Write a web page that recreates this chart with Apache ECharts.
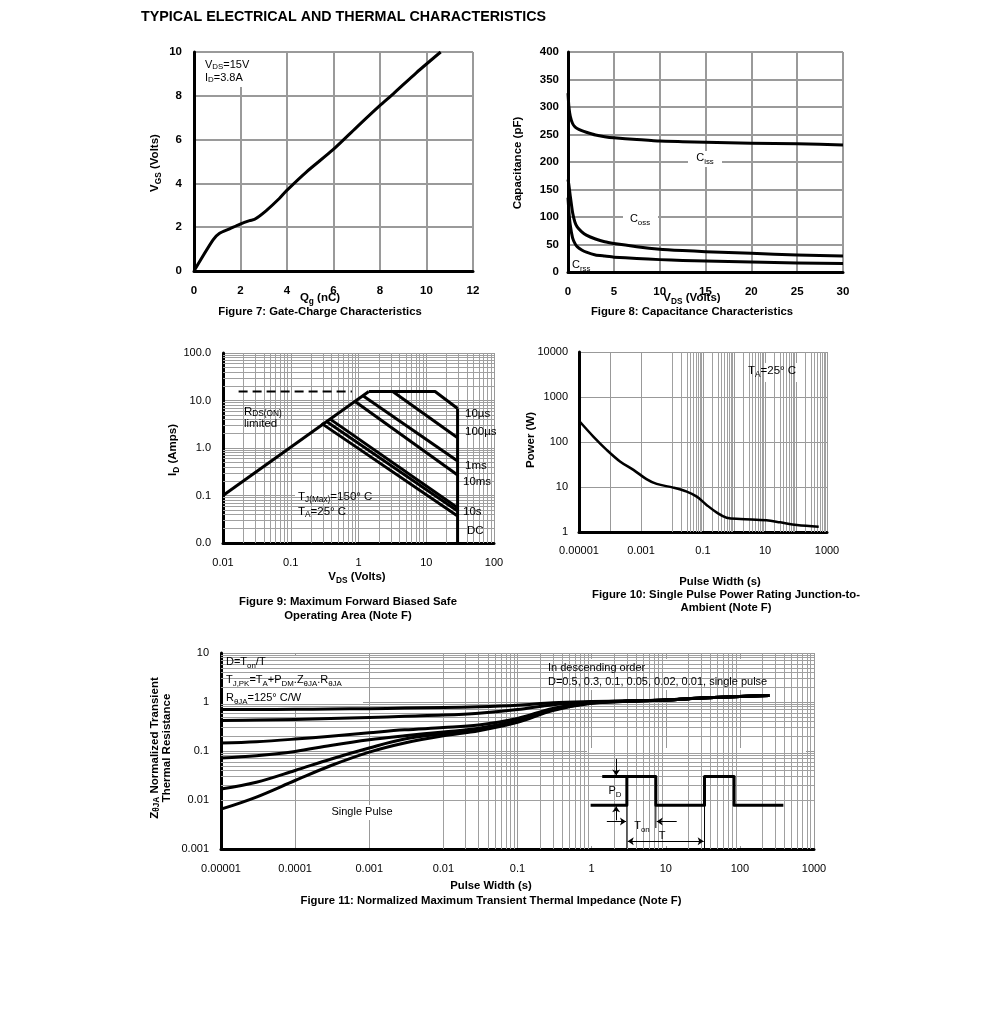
<!DOCTYPE html>
<html><head><meta charset="utf-8">
<script src="https://cdn.jsdelivr.net/npm/echarts@6/dist/echarts.min.js"></script>
<style>html,body{margin:0;padding:0;background:#fff}#c{width:991px;height:1017px}</style>
</head><body><div id="c"></div>
<script>
// ---------------- DATA ----------------
// Figure 7: gate charge
const QG  = [0,0.82,1.10,1.53,1.96,2.39,2.61,3.11,3.68,3.97,4.83,5.98,6.98,7.99,8.56,9.56,10.61];
const VGS = [0,1.42,1.72,1.92,2.13,2.30,2.36,2.76,3.32,3.66,4.52,5.54,6.55,7.55,8.08,9.05,10.0];
// Figure 8: capacitance
const VDS_CAP = [0,0.1,0.25,0.5,0.75,1,1.5,2,3,4,5,7.5,10,12.5,15,20,25,30];
const CISS = [325,300,283,270,264,261,257,254,249,246,244,241,238,237,236,234,233,231];
const COSS = [168,158,138,108,91,82,73,67,60,55,52,46,41.5,39,37,34,31,29];
const CRSS = [135,110,85,62,52,46,40,36,31,29,27,24.5,22.5,21,20,18,16.5,15.5];
// Figure 9: safe operating area, [VDS, ID]
const SOA_RDS   = [[0.01,0.1],[1.42,15.5]];
const SOA_10US  = [[1.42,15.5],[13.5,15.5],[29,6.8]];
const SOA_BOUND = [[29,6.8],[29,0.01]];
const SOA_100US = [[3.2,15.5],[29,1.65]];
const SOA_1MS   = [[1.15,12.8],[29,0.53]];
const SOA_10MS  = [[0.88,9.6],[29,0.27]];
const SOA_100MS = [[0.377,4.1],[29,0.055]];
const SOA_10S   = [[0.329,3.7],[29,0.047]];
const SOA_DC    = [[0.284,3.3],[29,0.037]];
const SOA_DASH  = [[0.017,15.5],[0.8,15.5]];
// Figure 10: single pulse power
const PW_T = [1e-5,2.9e-5,7.8e-5,2.1e-4,5.7e-4,1.5e-3,3.2e-3,0.011,0.03,0.063,0.13,0.28,0.58,1.6,11,31,106,540];
const PW_P = [296,132,67,37,24,15,11.7,9.7,7.9,6.1,4.0,2.7,2.08,1.95,1.82,1.64,1.43,1.31];
// Figure 11: transient thermal impedance
const ZT     = [1e-5,3e-5,1e-4,3e-4,1e-3,3e-3,0.01,0.03,0.1,0.3,1,3,10,30,100,250];
const Z_D05  = [0.70,0.70,0.71,0.72,0.73,0.75,0.77,0.80,0.86,0.96,1.02,1.06,1.10,1.20,1.30,1.35];
const Z_D03  = [0.42,0.43,0.44,0.46,0.48,0.51,0.54,0.59,0.70,0.88,1.00,1.05,1.10,1.20,1.30,1.35];
const Z_D01  = [0.146,0.155,0.175,0.20,0.235,0.27,0.30,0.34,0.46,0.74,0.97,1.04,1.10,1.20,1.30,1.35];
const Z_D005 = [0.072,0.08,0.098,0.13,0.17,0.205,0.245,0.29,0.42,0.71,0.96,1.04,1.10,1.20,1.30,1.35];
const Z_D001 = [0.0168,0.023,0.04,0.068,0.115,0.175,0.225,0.275,0.40,0.69,0.95,1.03,1.10,1.20,1.30,1.35];
const Z_SP   = [0.0065,0.0115,0.025,0.05,0.095,0.146,0.205,0.26,0.385,0.67,0.94,1.03,1.10,1.20,1.30,1.35];
// Figure 11 inset: pulse train (time in units of Ton, power normalised)
const PULSE_T = [-1.25,0,0,1,1,2.68,2.68,3.7,3.7,5.4];
const PULSE_P = [0,0,1,1,0,0,1,1,0,0];
const PD_REF  = [[-0.85,1],[0,1]];
// tick labels for log axes (one per decade)
const F9_X_LABELS  = ['0.01','0.1','1','10','100'];
const F9_Y_LABELS  = ['0.0','0.1','1.0','10.0','100.0'];
const F10_X_LABELS = ['0.00001','','0.001','','0.1','','10','','1000'];
const F10_Y_LABELS = ['1','10','100','1000','10000'];
const F11_X_LABELS = ['0.00001','0.0001','0.001','0.01','0.1','1','10','100','1000'];
const F11_Y_LABELS = ['0.001','0.01','0.1','1','10'];
const MINOR = [2,3,4,5,6,7,8,9];

// ---------------- HELPERS ----------------
const FF = '"Liberation Sans", Arial, Helvetica, sans-serif';
const zip = (a,b) => a.map((v,i)=>[v,b[i]]);
function rt(src, size, weight, lh) {
  lh = lh || size + 4;
  const out = src.split('\n').map(line => {
    let s = '', last = 0, m; const re = /_\{([^}]*)\}/g;
    while ((m = re.exec(line))) {
      if (m.index > last) s += '{n|' + line.slice(last, m.index) + '}';
      s += '{s|' + m[1] + '}';
      last = re.lastIndex;
    }
    if (last < line.length) s += '{n|' + line.slice(last) + '}';
    return s;
  }).join('\n');
  const sub = Math.round(size * 0.72 * 10) / 10;
  return { text: out, rich: {
    n: {fontSize:size, fontWeight:weight, fontFamily:FF, fill:'#000', color:'#000', lineHeight:lh},
    s: {fontSize:sub, fontWeight:weight, fontFamily:FF, fill:'#000', color:'#000', lineHeight:sub, verticalAlign:'bottom'}
  }};
}
function txt(src, x, y, o) {
  o = o || {};
  const r = rt(src, o.size || 11, o.weight || 'normal', o.lh);
  return {type:'text', x, y, rotation: o.rot || 0, z: 10, silent: true,
    style: Object.assign({align: o.align || 'left', verticalAlign: 'middle'}, r)};
}
function box(x, y, w, h) {
  return {type:'rect', z: 3, silent: true, shape:{x, y, width:w, height:h}, style:{fill:'#fff'}};
}
function linAxis(gi, min, max, interval, margin) {
  return {gridIndex:gi, type:'value', min, max, interval,
    axisLine:{show:true, onZero:false, lineStyle:{color:'#000', width:3}},
    axisTick:{show:false},
    axisLabel:{margin, color:'#000', fontSize:11.5, fontWeight:'bold', fontFamily:FF},
    splitLine:{show:true, lineStyle:{color:'#9a9a9a', width:2}}};
}
function logAxis(gi, min, max, labels, margin) {
  const e0 = Math.round(Math.log10(min));
  return {gridIndex:gi, type:'log', logBase:10, min, max, splitNumber:10,
    axisLine:{show:true, onZero:false, lineStyle:{color:'#000', width:3}},
    axisTick:{show:false}, minorTick:{show:false}, minorSplitLine:{show:false},
    axisLabel:{margin, color:'#000', fontSize:11, fontFamily:FF, showMinLabel:true, showMaxLabel:true,
      formatter: v => { const l = labels[Math.round(Math.log10(v)) - e0]; return l === undefined ? '' : l; }},
    splitLine:{show:true, lineStyle:{color:'#999', width:1}}};
}
function hidAxis(gi, min, max) { return {gridIndex:gi, type:'value', min, max, show:false}; }
function minorVals(e0, e1) {
  const out = [];
  for (let e = e0; e < e1; e++) for (const m of MINOR) out.push(m * Math.pow(10, e));
  return out;
}
function gridSeries(gi, xv, yv) {
  return {type:'line', xAxisIndex:gi, yAxisIndex:gi, data:[], silent:true, z:1, animation:false,
    markLine:{silent:true, symbol:['none','none'], animation:false, label:{show:false},
      emphasis:{disabled:true}, lineStyle:{color:'#a0a0a0', width:1, type:'solid'},
      data:[...xv.map(v=>({xAxis:v})), ...yv.map(v=>({yAxis:v}))]}};
}
function curve(gi, data, o) {
  o = o || {};
  return {type:'line', xAxisIndex:gi, yAxisIndex:gi, data, showSymbol:false, symbol:'none',
    smooth: o.smooth || false, silent:true, z:5, animation:false,
    lineStyle:{color:'#000', width: o.w || 3, type: o.type || 'solid', cap:'butt', join:'round'}};
}
function arrow(gi, coords, both) {
  return {type:'lines', coordinateSystem:'cartesian2d', xAxisIndex:gi, yAxisIndex:gi, z:6, silent:true,
    symbol: both ? ['arrow','arrow'] : ['none','arrow'], symbolSize:6, animation:false,
    lineStyle:{color:'#000', width:1, opacity:1, curveness:0}, data:[{coords}]};
}

// ---------------- OPTION ----------------
const G = {containLabel:false, outerBoundsMode:'none'};
const option = {
  backgroundColor:'#fff', animation:false,
  grid:[
    Object.assign({left:194, top:52, width:279, height:219}, G),
    Object.assign({left:568, top:52, width:275, height:220}, G),
    Object.assign({left:223, top:353, width:271, height:190}, G),
    Object.assign({left:579, top:352, width:248, height:180}, G),
    Object.assign({left:221, top:653, width:593, height:196}, G),
    Object.assign({left:587, top:748, width:221, height:100}, G)
  ],
  xAxis:[
    linAxis(0, 0, 12, 2, 14),
    linAxis(1, 0, 30, 5, 14),
    logAxis(2, 0.01, 100, F9_X_LABELS, 14),
    logAxis(3, 1e-5, 1000, F10_X_LABELS, 13),
    logAxis(4, 1e-5, 1000, F11_X_LABELS, 14),
    hidAxis(5, -1.375, 6.25)
  ],
  yAxis:[
    linAxis(0, 0, 10, 2, 12),
    linAxis(1, 0, 400, 50, 9),
    logAxis(2, 0.01, 100, F9_Y_LABELS, 12),
    logAxis(3, 1, 10000, F10_Y_LABELS, 11),
    logAxis(4, 0.001, 10, F11_Y_LABELS, 12),
    hidAxis(5, -1.5, 2.0)
  ],
  series:[
    // minor log gridlines
    gridSeries(2, minorVals(-2, 2), minorVals(-2, 2)),
    gridSeries(3, minorVals(-5, 3), []),
    gridSeries(4, minorVals(-5, 3), minorVals(-3, 1)),
    // fig 7
    curve(0, zip(QG, VGS), {smooth:0.25}),
    // fig 8
    curve(1, zip(VDS_CAP, CISS), {smooth:0.15}),
    curve(1, zip(VDS_CAP, COSS), {smooth:0.15}),
    curve(1, zip(VDS_CAP, CRSS), {smooth:0.15}),
    // fig 9
    curve(2, SOA_RDS), curve(2, SOA_10US), curve(2, SOA_BOUND), curve(2, SOA_100US),
    curve(2, SOA_1MS), curve(2, SOA_10MS), curve(2, SOA_100MS), curve(2, SOA_10S), curve(2, SOA_DC),
    curve(2, SOA_DASH, {w:2, type:[9,5]}),
    // fig 10
    curve(3, zip(PW_T, PW_P), {smooth:0.35, w:2.5}),
    // fig 11
    curve(4, zip(ZT, Z_D05), {smooth:0.35}),
    curve(4, zip(ZT, Z_D03), {smooth:0.35}),
    curve(4, zip(ZT, Z_D01), {smooth:0.35}),
    curve(4, zip(ZT, Z_D005), {smooth:0.35}),
    curve(4, zip(ZT, Z_D001), {smooth:0.35}),
    curve(4, zip(ZT, Z_SP), {smooth:0.35}),
    // inset pulse diagram
    Object.assign(curve(5, zip(PULSE_T, PULSE_P), {w:3}), {z:7}),
    Object.assign(curve(5, PD_REF, {w:3}), {z:7}),
    Object.assign(curve(5, [[0,0],[0,-1.5]], {w:1}), {z:7}),
    Object.assign(curve(5, [[1,0],[1,-0.8]], {w:1}), {z:7}),
    Object.assign(curve(5, [[2.68,0],[2.68,-1.5]], {w:1}), {z:7}),
    arrow(5, [[-0.37,1.62],[-0.37,1.04]]),
    arrow(5, [[-0.37,-0.53],[-0.37,-0.04]]),
    arrow(5, [[-0.69,-0.57],[-0.03,-0.57]]),
    arrow(5, [[1.72,-0.57],[1.03,-0.57]]),
    arrow(5, [[0.03,-1.26],[2.65,-1.26]], true)
  ],
  graphic:{elements:[
    txt('TYPICAL ELECTRICAL AND THERMAL CHARACTERISTICS', 141, 17, {size:14.3, weight:'bold'}),
    // fig 7
    box(197, 53, 61, 34),
    txt('V_{DS}=15V\nI_{D}=3.8A', 205, 71, {size:11, lh:13}),
    txt('Q_{g} (nC)', 320, 298, {size:11.5, weight:'bold', align:'center'}),
    txt('V_{GS} (Volts)', 155, 163, {size:11.5, weight:'bold', align:'center', rot:Math.PI/2}),
    txt('Figure 7: Gate-Charge Characteristics', 320, 312, {size:11.3, weight:'bold', align:'center'}),
    // fig 8
    box(688, 151, 34, 16), txt('C_{iss}', 705, 158, {size:11, align:'center'}),
    box(623, 212, 35, 15), txt('C_{oss}', 640, 219, {size:11, align:'center'}),
    txt('C_{rss}', 572, 265, {size:11}),
    txt('V_{DS} (Volts)', 692, 298, {size:11.5, weight:'bold', align:'center'}),
    txt('Capacitance (pF)', 518, 163, {size:11.5, weight:'bold', align:'center', rot:Math.PI/2}),
    txt('Figure 8: Capacitance Characteristics', 692, 312, {size:11.3, weight:'bold', align:'center'}),
    // fig 9
    box(240, 405, 41, 27), txt('R_{DS(ON)}\nlimited', 244, 418, {size:11.5, lh:12}),
    box(295, 491, 58, 28), txt('T_{J(Max)}=150° C\nT_{A}=25° C', 298, 504, {size:11.5, lh:15}),
    box(462, 407, 26, 15), txt('10µs', 465, 414, {size:11.5}),
    box(462, 426, 32, 13), txt('100µs', 465, 432, {size:11.5}),
    box(462, 460, 26, 12), txt('1ms', 465, 466, {size:11.5}),
    box(462, 476, 31, 12), txt('10ms', 463, 482, {size:11.5}),
    box(462, 506, 20, 13), txt('10s', 463, 512, {size:11.5}),
    box(462, 524, 23, 14), txt('DC', 467, 531, {size:11.5}),
    txt('V_{DS} (Volts)', 357, 577, {size:11.5, weight:'bold', align:'center'}),
    txt('I_{D} (Amps)', 173, 450, {size:11.5, weight:'bold', align:'center', rot:Math.PI/2}),
    txt('Figure 9: Maximum Forward Biased Safe\nOperating Area (Note F)', 348, 609, {size:11.3, weight:'bold', align:'center', lh:13.5}),
    // fig 10
    box(743, 363, 64, 19), txt('T_{A}=25° C', 748, 371, {size:11.5}),
    txt('Power (W)', 531, 440, {size:11.5, weight:'bold', align:'center', rot:Math.PI/2}),
    txt('Pulse Width (s)', 720, 582, {size:11.3, weight:'bold', align:'center'}),
    txt('Figure 10: Single Pulse Power Rating Junction-to-\nAmbient (Note F)', 726, 601, {size:11.3, weight:'bold', align:'center', lh:13}),
    // fig 11
    box(223, 655, 140, 54),
    txt('D=T_{on}/T', 226, 662, {size:11}),
    txt('T_{J,PK}=T_{A}+P_{DM}.Z_{θJA}.R_{θJA}', 226, 680, {size:11}),
    txt('R_{θJA}=125° C/W', 226, 698, {size:11}),
    box(540, 659, 265, 31),
    txt('In descending order', 548, 668, {size:11}),
    txt('D=0.5, 0.3, 0.1, 0.05, 0.02, 0.01, single pulse', 548, 682, {size:11}),
    box(327, 805, 70, 15), txt('Single Pulse', 362, 812, {size:11, align:'center'}),
    txt('Z_{θJA} Normalized Transient\nThermal Resistance', 161, 748, {size:11.5, weight:'bold', align:'center', rot:Math.PI/2, lh:12}),
    txt('Pulse Width (s)', 491, 886, {size:11.3, weight:'bold', align:'center'}),
    txt('Figure 11: Normalized Maximum Transient Thermal Impedance (Note F)', 491, 901, {size:11.3, weight:'bold', align:'center'}),
    box(587, 748, 219, 98),
    txt('P_{D}', 615, 791, {size:11, align:'center'}),
    txt('T_{on}', 642, 826, {size:11, align:'center'}),
    txt('T', 662, 836, {size:11, align:'center'})
  ]}
};
const chart = echarts.init(document.getElementById('c'), null, {renderer:'canvas', width:991, height:1017});
chart.setOption(option);
</script>
</body></html>
